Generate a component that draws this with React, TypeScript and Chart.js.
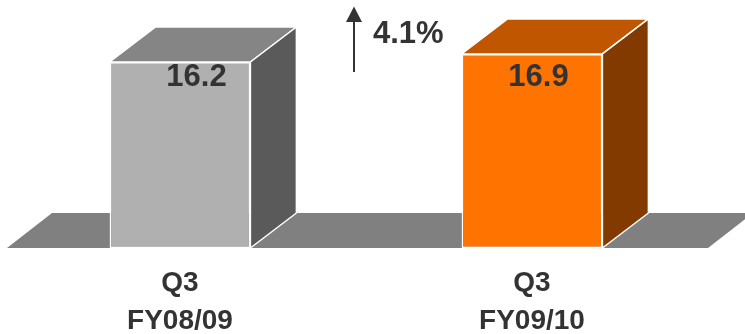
import React, { useEffect, useRef } from "react";
import { Chart, registerables } from "chart.js";

Chart.register(...registerables);

const categories: string[][] = [["Q3", "FY08/09"], ["Q3", "FY09/10"]];
const values: number[] = [16.2, 16.9];
const valueLabels: string[] = ["16.2", "16.9"];
const changeLabel = "4.1%";

const frontColors = ["#B0B0B0", "#FF7300"];
const topColors = ["#858585", "#C05600"];
const sideColors = ["#5A5A5A", "#833A00"];
const floorColor = "#808080";
const textColor = "#333333";
const FONT = "'Liberation Sans', Arial, sans-serif";

const DX = 46;
const DY = -35;

const threeDPlugin = {
  id: "threeD",
  beforeDatasetsDraw(chart: any) {
    const { ctx, chartArea, scales } = chart;
    const base = scales.y.getPixelForValue(0);
    const l = chartArea.left + 3;
    const r = chartArea.right;
    ctx.save();
    ctx.fillStyle = floorColor;
    ctx.beginPath();
    ctx.moveTo(l, base);
    ctx.lineTo(l + 45, base + DY);
    ctx.lineTo(r + 45, base + DY);
    ctx.lineTo(r, base);
    ctx.closePath();
    ctx.fill();
    ctx.restore();
  },
  afterDatasetsDraw(chart: any) {
    const { ctx } = chart;
    const meta = chart.getDatasetMeta(0);
    ctx.save();
    ctx.strokeStyle = "#FFFFFF";
    ctx.lineWidth = 1.5;
    ctx.lineJoin = "round";
    meta.data.forEach((bar: any, i: number) => {
      const p = bar.getProps(["x", "y", "base", "width"], true);
      const left = p.x - p.width / 2;
      const right = p.x + p.width / 2;
      const top = p.y;
      const bottom = p.base;
      ctx.fillStyle = topColors[i];
      ctx.beginPath();
      ctx.moveTo(left, top);
      ctx.lineTo(left + DX, top + DY);
      ctx.lineTo(right + DX, top + DY);
      ctx.lineTo(right, top);
      ctx.closePath();
      ctx.fill();
      ctx.stroke();
      ctx.fillStyle = sideColors[i];
      ctx.beginPath();
      ctx.moveTo(right, top);
      ctx.lineTo(right + DX, top + DY);
      ctx.lineTo(right + DX, bottom + DY);
      ctx.lineTo(right, bottom);
      ctx.closePath();
      ctx.fill();
      ctx.stroke();
    });
    const shifts = [16.5, 6.5];
    ctx.fillStyle = textColor;
    ctx.font = `bold 31px ${FONT}`;
    ctx.textAlign = "center";
    ctx.textBaseline = "alphabetic";
    meta.data.forEach((bar: any, i: number) => {
      const p = bar.getProps(["x"], true);
      ctx.fillText(valueLabels[i], p.x + shifts[i], chart.chartArea.top + 86);
    });
    ctx.restore();
  },
  afterDraw(chart: any) {
    const { ctx } = chart;
    const meta = chart.getDatasetMeta(0);
    const x0 = meta.data[0].getProps(["x"], true).x;
    const x1 = meta.data[1].getProps(["x"], true).x;
    const ax = (x0 + x1) / 2 - 2;
    const top = chart.chartArea.top;
    ctx.save();
    ctx.strokeStyle = textColor;
    ctx.fillStyle = textColor;
    ctx.lineWidth = 2;
    ctx.beginPath();
    ctx.moveTo(ax, top + 20);
    ctx.lineTo(ax, top + 72);
    ctx.stroke();
    ctx.beginPath();
    ctx.moveTo(ax, top + 6.5);
    ctx.lineTo(ax - 8, top + 22);
    ctx.lineTo(ax + 8, top + 22);
    ctx.closePath();
    ctx.fill();
    ctx.font = `bold 31px ${FONT}`;
    ctx.textAlign = "left";
    ctx.textBaseline = "alphabetic";
    ctx.fillText(changeLabel, ax + 19, top + 42.5);
    ctx.restore();
  },
};

export default function App() {
  const ref = useRef<HTMLCanvasElement>(null);
  useEffect(() => {
    document.body.style.margin = "0";
    const canvas = ref.current!;
    const chart = new Chart(canvas, {
      type: "bar",
      data: {
        labels: categories,
        datasets: [
          {
            data: values,
            backgroundColor: frontColors,
            borderColor: "#FFFFFF",
            borderWidth: 1.5,
            borderSkipped: false,
            barPercentage: 0.8,
            categoryPercentage: 0.5,
          },
        ],
      },
      options: {
        responsive: false,
        animation: false,
        layout: { padding: { left: 4, right: 37, top: 0, bottom: 0 } },
        plugins: { legend: { display: false }, tooltip: { enabled: false } },
        scales: {
          y: { display: false, min: 0, max: 21.6 },
          x: {
            grid: { display: false, drawTicks: false },
            border: { display: false },
            ticks: {
              color: textColor,
              font: { family: FONT, size: 28, weight: "bold", lineHeight: 1.36 },
              padding: 16,
              maxRotation: 0,
              autoSkip: false,
            },
            afterFit(scale: any) {
              scale.height = 86;
            },
          },
        },
      },
      plugins: [threeDPlugin],
    });
    return () => chart.destroy();
  }, []);
  return <canvas ref={ref} width={745} height={334} />;
}
